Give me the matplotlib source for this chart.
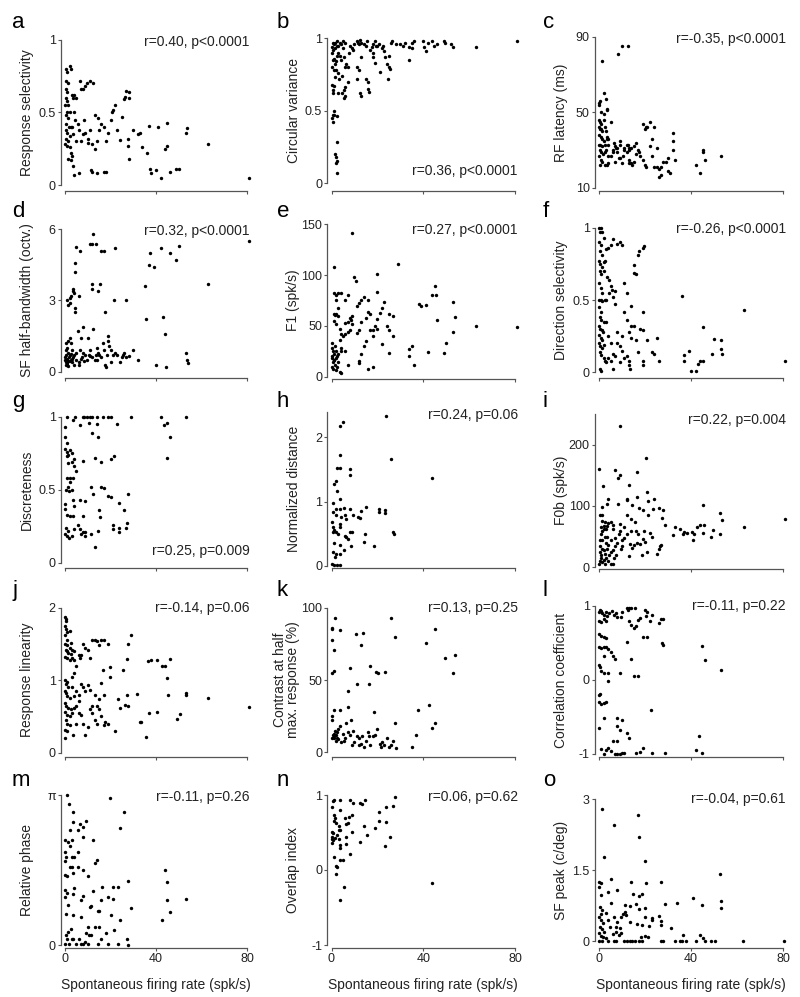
import numpy as np
import matplotlib
matplotlib.use('Agg')
import matplotlib.pyplot as plt

plt.rcParams['font.family'] = ['Liberation Sans', 'DejaVu Sans']

# ---------------- data (x = spontaneous firing rate, y = measure) ----------------
a_pts = [(0.5,0.80),(1,0.78),(2,0.82),(2.5,0.80),(0.5,0.72),(1.5,0.70),(0.3,0.66),(1,0.64),(0.5,0.60),(1,0.58),(0.2,0.55),(1.5,0.55),(0.8,0.50),(2,0.50),(0.3,0.48),(1.2,0.46),(0.5,0.42),(1.8,0.40),(2.5,0.40),(3,0.40),(0.4,0.38),(1,0.36),(2,0.34),(0.6,0.32),(1.5,0.30),(0.2,0.28),(1,0.27),(2,0.26),(2.8,0.22),(3,0.20),(1.5,0.18),(2.5,0.17),(3.5,0.13),(3,0.62),(4,0.62),(3.5,0.60),(5,0.60),(4.5,0.45),(5.5,0.42),(6,0.38),(6.5,0.72),(7,0.66),(8,0.66),(9,0.68),(9.5,0.70),(11,0.72),(12.5,0.70),(6,0.08),(11.5,0.10),(12,0.09),(14,0.08),(17,0.09),(18,0.09),(7,0.30),(8,0.35),(9,0.36),(10,0.32),(11,0.38),(12,0.28),(13,0.25),(14,0.30),(13,0.48),(14.5,0.46),(15,0.38),(16,0.42),(17,0.40),(18,0.30),(19,0.36),(20,0.45),(20.5,0.50),(21,0.52),(22,0.55),(23,0.38),(24,0.31),(25,0.47),(26,0.59),(26.5,0.61),(27,0.65),(28,0.64),(28,0.60),(27.5,0.32),(27.8,0.27),(28,0.18),(30,0.38),(32,0.35),(33,0.36),(34,0.26),(36,0.22),(37,0.41),(37.5,0.11),(38,0.08),(40,0.10),(41,0.40),(42,0.05),(44,0.25),(45,0.27),(45,0.43),(46,0.09),(49,0.11),(50,0.11),(53,0.36),(53.5,0.39),(63,0.28),(81,0.05),(4,0.07),(10,0.29),(8.5,0.45),(4,0.50),(3.5,0.35),(5,0.30)]

b_pts = [(1.5,0.20),(1.8,0.18),(2,0.14),(2.2,0.15),(2.5,0.28),(2.3,0.07),(0.4,0.45),(0.5,0.42),(0.6,0.47),(0.9,0.50),(1.2,0.47),(2.5,0.46),(0.5,0.62),(0.7,0.64),(1,0.67),(0.4,0.68),(1.5,0.73),(1,0.78),(0.3,0.80),(1.5,0.82),(0.6,0.85),(1.2,0.86),(2,0.84),(2.5,0.88),(0.2,0.90),(0.8,0.92),(1.6,0.93),(2.2,0.95),(3,0.95),(0.5,0.97),(1.5,0.97),(2.5,0.98),(3.5,0.97),(4,0.96),(0.3,0.94),(1.0,0.96),(3,0.90),(3.5,0.88),(4,0.85),(2,0.78),(3,0.76),(3.2,0.72),(3,0.62),(4.5,0.62),(4.5,0.74),(5,0.93),(5,0.98),(6,0.97),(6,0.80),(5.5,0.87),(6.5,0.82),(7,0.80),(7,0.70),(6,0.66),(5.5,0.64),(6,0.60),(5.5,0.59),(7.5,0.90),(8,0.95),(9,0.93),(9.5,0.92),(10,0.96),(11,0.98),(11.5,0.97),(12,0.96),(12.5,0.99),(13,0.97),(14,0.96),(15,0.95),(15.5,0.98),(13,0.87),(12,0.78),(11,0.80),(11,0.72),(12.5,0.62),(13,0.60),(15,0.72),(16,0.70),(16,0.65),(16.5,0.63),(17,0.92),(17.5,0.94),(18,0.96),(19,0.98),(19.5,0.95),(18,0.90),(18,0.87),(19,0.83),(20,0.95),(20.5,0.96),(21,0.77),(22,0.93),(22.5,0.95),(23,0.91),(23.5,0.87),(24,0.82),(25,0.88),(26,0.97),(26.5,0.98),(25,0.80),(25.5,0.79),(24.5,0.72),(28,0.96),(30,0.96),(31,0.95),(32,0.97),(34,0.94),(35,0.97),(35,0.93),(34,0.85),(36,0.98),(40,0.98),(40.5,0.94),(41,0.91),(42,0.97),(44,0.98),(44.5,0.95),(46,0.96),(49,0.98),(49.5,0.97),(52,0.96),(53,0.94),(63,0.94),(81,0.98)]

c_pts = [(0,55),(0,54),(0.3,56),(2,60),(3,57),(3.5,52),(3.5,51),(1,50),(2,49),(0,46),(0.5,45),(1,44),(2,46),(5,45),(0,42),(0.5,41),(1,41),(1.5,40),(2.5,42),(3,40),(0.2,38),(1,37),(1.5,36),(2,35),(3.5,37),(3.5,36),(4,36),(0,33),(0.5,33),(1.5,32),(2.5,33),(4,33),(0.3,30),(1,29),(1.7,28),(2.5,29),(3,30),(4,27),(0.2,27),(1,25),(1.5,24),(2.7,22),(3.5,22),(4,23),(0.5,22),(5,27),(6,29),(6.5,34),(7,32),(7.5,31),(8,29),(8.5,26),(9,26),(10,23),(10.5,27),(11,31),(12,33),(12.5,33),(13,31),(14,31),(15,32),(16,28),(16,34),(17,30),(17.5,29),(14,23),(14.5,22),(15,24),(13,25),(18,27),(19,25),(20,22),(20.5,21),(19,44),(20,41),(20.5,42),(21,42),(22,45),(22,32),(23,27),(24,21),(25,21),(26,20),(26,16),(27,17),(27,21),(28,24),(29,24),(30,26),(30,19),(31,18),(32,39),(32,35),(32,30),(23,36),(24,42),(25,31),(33,25),(42,22),(44,18),(45,29),(45,30),(46,25),(53,27),(6,30),(7,24),(8,31),(9,35),(9,33),(11,30),(12,29),(13,23),(13,30),(10,85),(12.8,85),(8.3,81),(1.5,77)]

d_pts = [(5,5.25),(6.5,5.1),(4.5,4.6),(4.5,4.2),(2,3.1),(2,2.9),(2.5,3.2),(1.5,2.8),(1,3.0),(3.5,3.5),(3.5,3.4),(4,3.3),(4.5,2.7),(4.5,2.5),(6,3.2),(11,5.4),(12,5.4),(13.5,5.4),(12.5,5.8),(12,3.7),(12,3.5),(14.5,3.4),(15.5,3.7),(16,5.1),(17,5.1),(17.5,2.5),(21.5,3.0),(22,5.2),(27,3.0),(35,3.6),(35.5,2.2),(37,4.5),(37.5,5.0),(39,4.4),(40,0.3),(42,5.2),(43,2.3),(44,1.6),(44.5,0.2),(46,5.0),(49,4.7),(50,5.3),(53,0.8),(53.5,0.5),(54,0.35),(63,3.7),(81,5.5),(0,0.5),(0.2,0.6),(0.4,0.4),(0.6,0.7),(0.8,0.3),(1,0.55),(1.2,0.45),(1.4,0.8),(0.3,0.9),(0.5,1.2),(1,1.0),(1.5,1.3),(2,1.4),(2.5,1.2),(3,0.9),(2,0.7),(2.5,0.5),(3,0.4),(3.5,0.6),(4,0.7),(4,0.3),(5,0.5),(5,0.8),(5.5,1.7),(6,0.4),(6.5,0.9),(7,1.4),(7.5,0.6),(8,1.9),(8,0.8),(9,0.7),(9.5,0.5),(10,1.4),(10.5,0.7),(11,0.9),(12,0.6),(12.5,1.8),(13,0.5),(13.5,0.7),(14,1.0),(14.5,0.8),(15,0.7),(16,0.6),(16.5,1.2),(17,0.9),(17.5,0.3),(18,0.2),(18.5,0.7),(19,1.5),(19,1.3),(19.5,1.1),(20,0.9),(20,0.4),(21,0.7),(22,0.8),(23,0.7),(24,0.4),(25,0.6),(25.5,0.7),(26,0.8),(27,0.6),(28,0.65),(30,0.9),(32,0.5),(0.5,0.3),(1.5,0.25),(2,0.45),(0.7,0.35),(1.8,0.6),(2.8,0.75),(3.2,0.55),(6,0.3),(7,0.55),(8.5,0.45),(11,0.65),(14,0.5)]

e_pts = [(9,141),(1.2,108),(29,111),(20,101),(45,89),(44,80),(45.5,80),(38,72),(39,70),(41,71),(46,56),(53,74),(54,59),(53,44),(50,33),(49,23),(63,50),(81,49),(42,24),(36,12),(35,30),(34,20),(34,27),(27,40),(25,62),(27,60),(24,50),(25,46),(22,68),(23,74),(20,83),(21,63),(20,57),(19,50),(18,46),(18,40),(17,62),(16,64),(15,58),(14,78),(13,75),(12,73),(11,70),(10,98),(10.5,94),(9,60),(8.5,56),(8,58),(7,54),(6,53),(8,46),(7,44),(6,42),(5,40),(4,42),(3.5,47),(3.5,36),(4,28),(4,25),(6,75),(7,80),(4,82),(3,82),(1,82),(2,80),(2,75),(1,62),(1.5,61),(2,62),(3,68),(3,60),(1,55),(2,52),(0,33),(0,28),(0.5,25),(1,22),(0.2,20),(0.4,18),(1,16),(0.5,14),(1.5,12),(0.3,10),(0.8,8),(1.2,16),(2,18),(2.5,20),(3,22),(3,14),(2.5,10),(3.5,5),(4,4),(2,7),(1.5,30),(2,25),(6,25),(7,12),(12,13),(12,15),(13,22),(14,30),(16,8),(18,10),(20,47),(22,32),(25,23),(11,43),(13,54),(15,35),(17,46),(16,75),(12,46),(9,52)]

f_pts = [(0,1.0),(0.5,0.97),(1,1.0),(1.5,0.97),(2,0.93),(0,0.9),(1,0.88),(0.3,0.84),(1.2,0.81),(0,0.77),(0.6,0.75),(1.5,0.73),(2,0.76),(2.5,0.77),(0.3,0.7),(1,0.68),(2,0.7),(0,0.62),(1,0.58),(1.5,0.55),(0.2,0.5),(0.7,0.5),(1.5,0.49),(2.5,0.5),(0,0.45),(1,0.42),(0.4,0.38),(1,0.36),(2,0.35),(0,0.32),(0.5,0.3),(1.2,0.29),(1.8,0.28),(0.2,0.26),(0.7,0.24),(1.5,0.22),(0,0.2),(0.5,0.18),(1.2,0.17),(2,0.19),(0.3,0.14),(1,0.12),(2,0.10),(2.5,0.08),(3,0.07),(0.5,0.02),(1,0.01),(3,0.85),(4,0.86),(5,0.88),(6,0.92),(3.5,0.66),(4.5,0.64),(5,0.60),(5.5,0.57),(7,0.56),(3,0.50),(4.5,0.55),(6,0.52),(7,0.47),(3,0.35),(4,0.25),(5,0.20),(6,0.13),(4,0.10),(5,0.08),(6,0.02),(7,0.11),(8,0.89),(9,0.90),(10,0.88),(11,0.62),(12,0.55),(11,0.42),(12,0.36),(13,0.28),(10,0.25),(9,0.18),(8,0.28),(8,0.20),(10,0.15),(11,0.10),(9,0.07),(14,0.32),(14,0.24),(15,0.69),(15,0.74),(16,0.68),(15,0.32),(16,0.22),(17,0.81),(17.5,0.84),(18,0.30),(19,0.86),(19.5,0.87),(19,0.08),(19,0.05),(19,0.29),(19,0.42),(17,0.14),(13,0.08),(12,0.11),(14,0.46),(13,0.05),(13.5,0.02),(21,0.22),(23,0.14),(24,0.13),(25,0.24),(26,0.08),(36,0.53),(37,0.12),(37,0.08),(39,0.15),(40,0.01),(42,0.01),(43,0.06),(44,0.08),(45,0.08),(45,0.31),(49,0.13),(50,0.23),(53,0.16),(53,0.22),(53.5,0.13),(63,0.43),(81,0.08)]

g_pts = [(0.75,1),(4.5,1),(7.8,1),(8.5,1),(9.8,1),(11,1),(12,1),(14,1),(16.5,1),(18.8,1),(20,1),(29,1),(42,1),(53,1),(43.4,0.94),(45,0.96),(46,0.86),(45,0.72),(23,0.95),(14,0.95),(10.5,0.96),(6.8,0.94),(3.3,0.98),(0,0.93),(0,0.86),(1,0.82),(0,0.78),(1,0.76),(1.5,0.74),(2.3,0.77),(3,0.75),(3.8,0.71),(1,0.73),(4,0.66),(5,0.63),(3,0.69),(1.5,0.68),(2.3,0.58),(3.4,0.58),(1,0.58),(2.3,0.55),(1.5,0.52),(0.5,0.5),(1.8,0.49),(3,0.5),(8,0.7),(13,0.72),(14.5,0.86),(12,0.89),(16,0.69),(20,0.71),(21.6,0.73),(11.5,0.52),(12.5,0.47),(15.8,0.52),(17.3,0.51),(18.8,0.46),(20,0.45),(23.6,0.41),(27.5,0.47),(26,0.36),(6.5,0.43),(8.7,0.42),(3.5,0.43),(3.8,0.39),(0,0.40),(0,0.37),(0.75,0.33),(2,0.32),(3.5,0.32),(7.8,0.32),(15,0.36),(15.3,0.31),(21,0.26),(23.6,0.24),(27.3,0.27),(27,0.24),(21,0.23),(23.6,0.21),(0.5,0.24),(1.2,0.22),(0,0.20),(0.75,0.18),(1.8,0.17),(3.2,0.18),(3.8,0.23),(5.5,0.26),(6.5,0.23),(7,0.20),(8,0.21),(8.7,0.18),(9,0.21),(11.5,0.20),(14.3,0.22),(13,0.11)]

h_pts = [(3.5,2.17),(5.2,2.24),(23.7,2.33),(26,1.66),(43.7,1.36),(3.5,1.72),(2.4,1.52),(3.9,1.52),(8,1.51),(8,1.42),(2,1.32),(1.2,1.28),(2.4,1.17),(0.5,0.97),(3.9,1.04),(2,0.89),(3.5,0.89),(5.4,0.90),(8,0.89),(13,0.85),(15,0.91),(20.7,0.89),(20.7,0.84),(23.4,0.87),(23.4,0.82),(26.8,0.53),(27.2,0.50),(0.5,0.84),(2,0.79),(4.2,0.76),(5.7,0.79),(9.5,0.79),(11.7,0.76),(12.5,0.75),(6.5,0.73),(0,0.68),(0.5,0.60),(1.2,0.56),(2,0.53),(0.5,0.53),(2.7,0.50),(3.5,0.65),(3.9,0.60),(5.7,0.47),(6.5,0.45),(7.2,0.42),(8,0.53),(9,0.53),(14.7,0.49),(14,0.37),(18.5,0.31),(8.7,0.30),(5.4,0.25),(3.5,0.32),(1.2,0.35),(0.5,0.22),(2,0.19),(1.5,0.14),(3.5,0.19),(0,0.02),(1.2,0.01),(2.4,0.01),(3.9,0.01)]

i_pts = [(9.1,231),(20.3,179),(0,160),(7,158),(9,151),(8.4,145),(16.7,155),(13.2,135),(1.7,133),(20.7,123),(24,112),(21.4,108),(16.4,114),(12,112),(12.3,109),(3.9,112),(3.6,104),(8.3,104),(14.5,101),(17.4,96),(19.1,93),(26,96),(27.7,94),(45,101),(1.2,99),(0.4,86),(1.3,85),(2.5,74),(3.3,67),(5,74),(6.2,69),(9,71),(12.3,86),(13.8,79),(15.7,74),(21.4,86),(23.3,95),(27.2,80),(28.8,69),(33,65),(35,62),(36.4,55),(37,58),(38.1,56),(40.4,58),(41,44),(42.8,66),(44,69),(45,56),(45.8,69),(48.8,50),(49.7,61),(52.8,89),(53.3,77),(52.7,54),(63,66),(80.9,78),(41.3,55),(32,52),(0.2,5),(0.5,10),(0.8,15),(1,20),(0.3,25),(1.2,30),(0.6,35),(1.5,8),(2,12),(0.4,45),(1,55),(1.5,60),(2,63),(2.5,50),(3,40),(3.5,30),(2.5,22),(3,15),(4,10),(5,6),(6,5),(4,36),(5,45),(6,28),(7,35),(8,40),(8.5,55),(9,60),(9.5,30),(10,35),(11,48),(12,55),(13,18),(13.5,38),(14,60),(14.5,32),(15,36),(16,60),(16.5,40),(17,55),(18,38),(18.5,20),(19,46),(19.5,60),(20,42),(21,25),(22,56),(23,50),(25,21),(26,30),(26.5,34),(27,37),(1.5,75),(2,68),(3,62),(4,72),(6,62),(7,48),(10,45),(11,65),(3.5,50),(5,25),(0.7,65),(1.3,45),(2.2,28),(4.5,20),(6.5,15),(7.5,20),(2.8,5)]

j_pts = [(0,1.87),(0.3,1.85),(0.5,1.82),(0,1.75),(0.5,1.70),(1,1.66),(2,1.68),(0,1.62),(1,1.55),(2.5,1.52),(0,1.50),(1,1.48),(2,1.45),(0.3,1.42),(1,1.40),(1.5,1.38),(2.5,1.36),(3,1.42),(4,1.40),(0,1.32),(1,1.30),(2,1.28),(3,1.30),(4,1.28),(6,1.35),(6.5,1.30),(5,1.20),(7,1.35),(8,1.50),(9,1.45),(10,1.42),(11,1.30),(12,1.55),(13,1.55),(14,1.54),(15,1.48),(16,1.55),(17,1.56),(19,1.50),(29,1.62),(27.5,1.50),(27.2,1.29),(25.6,1.14),(19.6,1.18),(19.6,1.05),(16,0.96),(16.5,1.14),(17,0.80),(15,0.74),(14,0.65),(13,0.80),(12,0.65),(11,0.87),(10,0.93),(9,0.85),(8,0.90),(7,0.95),(6,0.80),(5,0.85),(4,0.78),(6,0.72),(4,0.62),(0,1.00),(0.5,0.95),(1,0.97),(1.5,0.90),(0,0.85),(0.5,0.82),(1,0.78),(2,0.75),(0,0.68),(0.5,0.65),(1.5,0.62),(2.5,0.60),(0,0.56),(1,0.52),(2,0.50),(3,0.55),(0.5,0.45),(1,0.40),(2,0.38),(0,0.32),(1,0.30),(0,0.20),(3.5,0.25),(5,0.40),(6,0.55),(7,0.52),(8,0.40),(9,0.25),(10,0.35),(11,0.60),(12,0.55),(13,0.45),(14,0.40),(15,0.60),(16,0.50),(17,0.38),(17.5,0.42),(18.8,0.40),(22,0.30),(23.5,0.74),(24,0.61),(26.5,0.66),(27.5,0.64),(27.2,0.79),(31.6,0.81),(33,0.43),(33.5,0.42),(35.7,0.22),(36.5,1.27),(37.7,1.28),(40.3,1.28),(42.5,1.20),(44,1.20),(45,1.03),(46,1.29),(45.2,0.80),(37,0.55),(40.6,0.56),(53,0.82),(53,0.79),(50.4,0.54),(49.3,0.47),(63,0.76),(81,0.63),(3,1.05),(3,0.90),(4,1.10),(5,0.65)]

k_pts = [(1.4,92.6),(0,86),(0.1,85),(3.9,84.6),(0,77.6),(0.9,70.7),(1.2,56.5),(0,55),(10.7,82),(13.6,82.5),(12.7,74),(25.8,93),(27.8,80),(45.3,85),(41.2,75.8),(49.3,65.4),(53.7,67),(53.1,54.6),(17,60),(19.2,55.6),(20.3,55),(23.2,55.6),(8.1,58.4),(11.1,47),(16.2,47),(7.2,42.6),(7.2,31),(18.5,28),(37.8,29),(42.7,33),(45,20),(43.9,17),(27.8,20),(0.9,29.5),(3.8,29),(0,22),(0.4,25),(0,10),(1,10),(1.5,15),(2,12),(2.5,14),(3,16),(3.5,18),(2,8),(3,9),(4,7),(5,13),(6,10),(6.5,20),(7,14),(8,12),(8.5,22),(9,5),(10,7),(11,11),(12,10),(13,6),(13.5,11),(14,4),(15,8),(16,14),(16.5,11),(17,5),(18,11),(19,12),(20,16),(21,6),(21.5,4),(22,7),(23,5),(24,10),(25,4),(26,5),(27,8),(28,3),(35,4),(37,12),(9.5,15),(12,5),(5.5,8),(1,13),(1.2,11),(0.5,12),(2.5,10)]

l_pts = [(0,0.92),(0.5,0.95),(1,0.93),(1.5,0.90),(2,0.88),(3,0.92),(3.5,0.87),(4.5,0.90),(5.5,0.93),(6.5,0.88),(7.5,0.90),(8,0.85),(9.5,0.85),(10,0.92),(12,0.97),(12.5,0.95),(13,0.97),(14,0.97),(15.5,0.97),(13,0.80),(14,0.75),(15,0.70),(16,0.73),(17,0.81),(18,0.84),(20,0.95),(21,0.92),(20.5,0.86),(22,0.80),(23,0.88),(26,0.77),(27,0.82),(28,0.83),(19,0.58),(21,0.58),(27.5,0.50),(28,0.47),(0,0.80),(1,0.79),(2,0.82),(3,0.80),(0,0.62),(1,0.60),(2,0.58),(3,0.57),(2,0.45),(3,0.44),(4,0.42),(0,0.45),(1,0.43),(5,0.38),(6,0.32),(7,0.29),(2,0.32),(12,0.51),(14,0.28),(0,0.20),(0.5,0.18),(1,0.12),(2,0.10),(4,0.10),(9,0.10),(15,0.05),(17,0.05),(4,-0.02),(0,-0.20),(0.5,-0.19),(0,-0.30),(1,-0.32),(2,-0.31),(3,-0.30),(2,-0.52),(8,-0.52),(10,-0.54),(8,-0.62),(9,-0.68),(12,-0.72),(13,-0.78),(6,-0.82),(8,-0.82),(0,-0.65),(1,-0.93),(2,-1.0),(3,-0.95),(4,-0.92),(5,-0.96),(7,-1.0),(8,-1.0),(9,-1.0),(10,-0.99),(11,-0.98),(16,-0.99),(18,-0.97),(19,-0.92),(23,-0.99),(22.6,-0.40),(28.7,-0.98),(44.7,0.46),(46,0.27),(43.5,-0.75),(42,-0.95),(44.7,-0.99),(53,0.13)]

# relative phase, in multiples of pi
m_pts = [(0.7,1.0),(1.9,0.94),(19.6,0.98),(26,0.89),(3.6,0.89),(6.5,0.81),(3.6,0.82),(9.1,0.83),(7.7,0.79),(5.5,0.77),(2.2,0.77),(24.2,0.78),(0,0.70),(1.2,0.69),(3.2,0.70),(2.2,0.66),(8,0.72),(12.3,0.70),(5.5,0.62),(0,0.62),(0.3,0.59),(2.9,0.59),(4,0.59),(0,0.56),(2.2,0.52),(3.2,0.52),(5.8,0.52),(8,0.50),(14,0.57),(13.3,0.55),(44,0.50),(3.3,0.48),(0,0.47),(0.7,0.46),(9.9,0.46),(27.5,0.43),(45,0.42),(16.2,0.39),(21.3,0.39),(23.2,0.39),(12.3,0.36),(0,0.37),(0.7,0.35),(4,0.38),(3.6,0.34),(8,0.33),(18.8,0.32),(21,0.31),(16,0.30),(7,0.30),(0,0.32),(53,0.31),(45,0.30),(1.2,0.27),(11.6,0.26),(11.2,0.255),(14.8,0.23),(14.5,0.225),(29,0.25),(46,0.22),(42.5,0.17),(0.4,0.21),(3.6,0.20),(7,0.19),(20.3,0.20),(24,0.17),(2.5,0.11),(1.2,0.09),(0.3,0.07),(0.7,0.04),(1.9,0.01),(2.9,0.04),(3.6,0.04),(9.9,0.12),(11.6,0.07),(13,0.12),(14.8,0.12),(9.4,0.08),(10.4,0.07),(16,0.04),(18,0.08),(21.7,0.10),(6,0.04),(7,0.01),(8,0.01),(8.7,0.02),(10,0.01),(14.5,0.01),(18.8,0.01),(23.5,0.005),(27.2,0.04),(27.5,0.0),(5,0.01),(0,0.01)]

n_pts = [(0.2,0.84),(0.5,0.92),(1.2,0.93),(3.5,0.94),(8,0.93),(9.2,0.89),(12.5,0.90),(13.2,0.88),(14.7,0.93),(27.5,0.97),(26.7,0.85),(23.7,0.84),(20.7,0.78),(20.7,0.66),(23.7,0.64),(19,0.56),(14.3,0.59),(12.5,0.38),(15.5,0.47),(25.7,0.44),(23.4,0.32),(3.5,0.80),(1.2,0.73),(1.7,0.70),(0.9,0.66),(2,0.63),(3.2,0.59),(5.7,0.69),(6.3,0.61),(7.1,0.63),(7.5,0.71),(9,0.73),(3.8,0.54),(3.2,0.53),(0,0.51),(0.5,0.50),(0.2,0.44),(0,0.41),(0.5,0.40),(0,0.36),(2.3,0.47),(1.7,0.43),(3.2,0.41),(3.8,0.33),(3.8,0.29),(6.3,0.44),(6.3,0.35),(9,0.51),(8,0.22),(1.2,0.18),(2,0.05),(2.3,0.04),(2,-0.05),(3.5,0.14),(5,0.14),(5.3,-0.23),(3.5,-0.40),(44,-0.17)]

o_pts = [(1.2,2.78),(6.4,2.45),(16.9,2.66),(17.2,2.19),(2.2,1.77),(20,1.68),(52.8,1.42),(0,1.25),(1,1.23),(5.2,1.30),(14,1.24),(20.6,1.22),(27,1.25),(0.7,0.97),(0,1.14),(3.7,1.04),(7.9,1.08),(14.9,1.00),(17.2,0.95),(18.7,1.00),(5.2,0.80),(11.2,0.76),(16,0.78),(28.7,0.78),(33.9,0.80),(40.8,0.90),(44.8,0.77),(53,0.85),(53,0.69),(17.2,0.67),(20,0.69),(19.8,0.50),(23.2,0.48),(25.9,0.53),(27,0.43),(27,0.34),(31.4,0.27),(23,0.44),(21.7,0.32),(18.7,0.34),(16.4,0.36),(13.4,0.41),(11.9,0.55),(9.7,0.51),(10.5,0.58),(7.9,0.41),(6.4,0.50),(7.5,0.30),(9,0.27),(8.5,0.13),(9.4,0.16),(7.5,0.20),(6,0.15),(4.9,0.30),(4,0.44),(3,0.60),(1.5,0.65),(0.4,0.72),(0.7,0.58),(0,0.51),(1,0.44),(1.9,0.37),(0.4,0.30),(1.5,0.25),(2.2,0.20),(0,0.16),(0.7,0.11),(1.9,0.09),(3,0.06),(0,0),(1.5,0),(3.7,0),(6.4,0),(7.5,0),(10.9,0),(12,0),(13.5,0),(14.5,0),(15.7,0),(17.2,0),(18.7,0),(18.4,0.09),(19.9,0.10),(21.4,0.08),(27,0),(28,0),(32.9,0),(35.1,0),(36.3,0),(38,0),(36.6,0.13),(42.3,0),(43.8,0.13),(45.3,0.06),(46.3,0),(48.9,0),(50.4,0),(62.8,0),(80.3,0),(13.4,0.73),(11.2,0.62)]

x_ticks = [0, 40, 80]
x_label = 'Spontaneous firing rate (spk/s)'

panel_letters = list('abcdefghijklmno')
y_labels = ['Response selectivity', 'Circular variance', 'RF latency (ms)',
            'SF half-bandwidth (octv.)', 'F1 (spk/s)', 'Direction selectivity',
            'Discreteness', 'Normalized distance', 'F0b (spk/s)',
            'Response linearity', 'Contrast at half\nmax. response (%)', 'Correlation coefficient',
            'Relative phase', 'Overlap index', 'SF peak (c/deg)']
stats = ['r=0.40, p<0.0001', 'r=0.36, p<0.0001', 'r=-0.35, p<0.0001',
         'r=0.32, p<0.0001', 'r=0.27, p<0.0001', 'r=-0.26, p<0.0001',
         'r=0.25, p=0.009', 'r=0.24, p=0.06', 'r=0.22, p=0.004',
         'r=-0.14, p=0.06', 'r=0.13, p=0.25', 'r=-0.11, p=0.22',
         'r=-0.11, p=0.26', 'r=0.06, p=0.62', 'r=-0.04, p=0.61']
y_limits = [(0, 1), (0, 1), (10, 90), (0, 6), (0, 150), (0, 1), (0, 1), (0, 2.4), (0, 250),
            (0, 2), (0, 100), (-1, 1), (0, np.pi), (-1, 1), (0, 3)]
y_tick_vals = [[0, 0.5, 1], [0, 0.5, 1], [10, 50, 90], [0, 3, 6], [0, 50, 100, 150],
               [0, 0.5, 1], [0, 0.5, 1], [0, 1, 2], [0, 100, 200], [0, 1, 2],
               [0, 50, 100], [-1, 0, 1], [0, np.pi], [-1, 0, 1], [0, 1.5, 3]]
y_tick_labels = [['0', '0.5', '1'], ['0', '0.5', '1'], ['10', '50', '90'], ['0', '3', '6'],
                 ['0', '50', '100', '150'], ['0', '0.5', '1'], ['0', '0.5', '1'], ['0', '1', '2'],
                 ['0', '100', '200'], ['0', '1', '2'], ['0', '50', '100'], ['-1', '0', '1'],
                 ['0', 'π'], ['-1', '0', '1'], ['0', '1.5', '3']]

all_pts = [a_pts, b_pts, c_pts, d_pts, e_pts, f_pts, g_pts, h_pts, i_pts,
           j_pts, k_pts, l_pts, m_pts, n_pts, o_pts]
y_scale = [1] * 15
y_scale[12] = np.pi  # relative phase stored in units of pi

# ---------------- layout (pixels) ----------------
W, H = 800, 997
col_px = [(65, 247), (331.5, 515), (599, 783)]
row_px = [(40, 185), (38.3, 183), (36.7, 188),
          (229.3, 371.7), (224.3, 376.7), (227.7, 372.3),
          (416.7, 562.7), (411.7, 565.7), (414, 567.3),
          (607.7, 752.7), (607.7, 752.3), (606, 754),
          (795, 945), (795, 945), (799, 941)]
spine_row_px = [191, 378, 568, 757, 948]
stat_pos = [0.985, 0.08, 0.985, 0.99, 0.96, 0.99, 0.08, 0.98, 0.96, 1.0, 1.0, 1.0, 0.99, 0.99, 1.0]
letter_x = [12, 277, 543]
letter_base = [28, 217, 407, 596, 786]
xlabel_y_px = 985

fig = plt.figure(figsize=(W / 100, H / 100), dpi=100)
spine_col = '#555555'

for idx in range(15):
    r, c = divmod(idx, 3)
    x0, x1 = col_px[c]
    yt, yb = row_px[idx]
    ax = fig.add_axes([x0 / W, 1 - yb / H, (x1 - x0) / W, (yb - yt) / H])
    pts = all_pts[idx]
    xs = [p[0] for p in pts]
    ys = [p[1] * y_scale[idx] for p in pts]
    ax.scatter(xs, ys, s=6, c='black', linewidths=0, clip_on=False, zorder=3)
    ax.set_xlim(0, 80)
    ax.set_ylim(*y_limits[idx])
    ax.set_xticks(x_ticks)
    ax.set_yticks(y_tick_vals[idx])
    ax.set_yticklabels(y_tick_labels[idx])
    if r == 4:
        ax.set_xticklabels([str(t) for t in x_ticks])
        fig.text(((x0 + x1) / 2) / W, 1 - xlabel_y_px / H, x_label, fontsize=10,
                 ha='center', va='center', color='#222222')
    else:
        ax.set_xticklabels([])
    for side in ('top', 'right'):
        ax.spines[side].set_visible(False)
    off_px = max(2.0, spine_row_px[r] - yb)
    ax.spines['left'].set_position(('outward', 3))
    ax.spines['bottom'].set_position(('outward', off_px * 0.72))
    for side in ('left', 'bottom'):
        ax.spines[side].set_color(spine_col)
        ax.spines[side].set_linewidth(0.9)
    ax.tick_params(direction='out', length=2.2, width=0.8, color=spine_col,
                   labelsize=9, pad=1.5, labelcolor='#222222')
    ax.set_ylabel(y_labels[idx], fontsize=10, linespacing=1.0, color='#222222')
    ax.yaxis.set_label_coords(-31 / (x1 - x0), 0.5)
    ax.text(1.015, stat_pos[idx], stats[idx], transform=ax.transAxes,
            ha='right', va='center', fontsize=10, color='#222222')
    fig.text(letter_x[c] / W, 1 - letter_base[r] / H, panel_letters[idx],
             fontsize=16, ha='left', va='baseline')

fig.savefig('out.png', dpi=100)
